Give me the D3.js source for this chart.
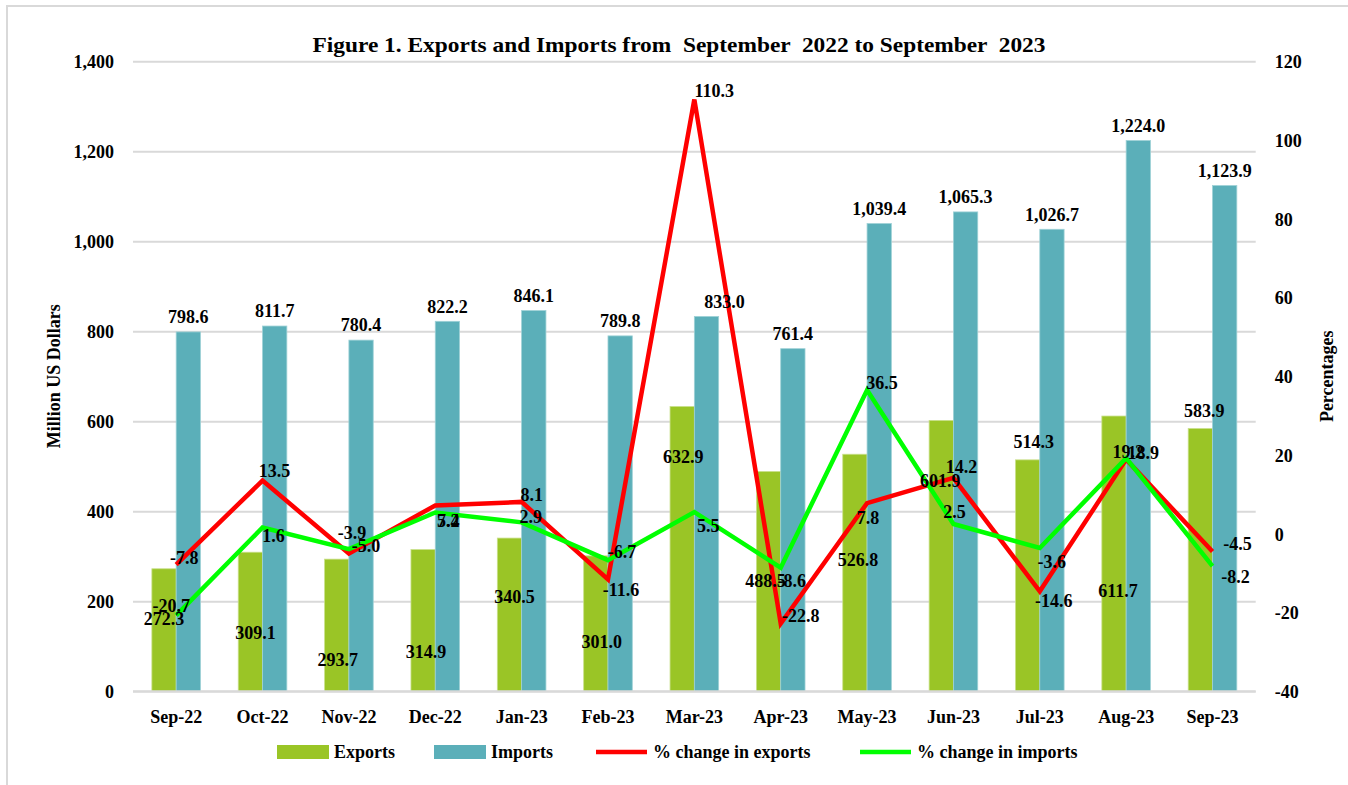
<!DOCTYPE html>
<html>
<head>
<meta charset="utf-8">
<script src="https://cdn.jsdelivr.net/npm/d3@7"></script>
<style>
  html, body { margin: 0; padding: 0; background: #fff; }
  svg { display: block; }
  text { font-family: "Liberation Serif", "Times New Roman", serif; font-weight: bold; fill: #000; }
</style>
</head>
<body>
<svg id="chart" width="1348" height="785"></svg>
<script>
// ---------------- data ----------------
const categories = ["Sep-22","Oct-22","Nov-22","Dec-22","Jan-23","Feb-23","Mar-23","Apr-23","May-23","Jun-23","Jul-23","Aug-23","Sep-23"];
const exportsVals = [272.3, 309.1, 293.7, 314.9, 340.5, 301.0, 632.9, 488.5, 526.8, 601.9, 514.3, 611.7, 583.9];
const importsVals = [798.6, 811.7, 780.4, 822.2, 846.1, 789.8, 833.0, 761.4, 1039.4, 1065.3, 1026.7, 1224.0, 1123.9];
const pctExports = [-7.8, 13.5, -5.0, 7.2, 8.1, -11.6, 110.3, -22.8, 7.8, 14.2, -14.6, 18.9, -4.5];
const pctImports = [-20.7, 1.6, -3.9, 5.4, 2.9, -6.7, 5.5, -8.6, 36.5, 2.5, -3.6, 19.2, -8.2];
const leftTicks = [0, 200, 400, 600, 800, 1000, 1200, 1400];
const rightTicks = [-40, -20, 0, 20, 40, 60, 80, 100, 120];
const seriesNames = ["Exports", "Imports", "% change in exports", "% change in imports"];
const titleText = "Figure 1. Exports and Imports from  September  2022 to September  2023";

// label nudges (pixels) as placed in the original chart
const exportLabelNudge = [[0,50],[5,80],[1,101],[3,102],[5,59],[6,86],[1,50],[-3,109],[3,105],[-1,60],[6,-18],[4,175],[4,-18]];
const importLabelNudge = [[0,-15],[0,-15],[0,-15],[0,-15],[0,-15],[0,-15],[18,-15],[0,-15],[0,-15],[0,-15],[0,-15],[0,-15],[0,-15]];
const pctExpLabelNudge = [[8,-7],[12,-10],[17,-8],[13,15],[10,-7],[13,10],[20,-9],[20,-8],[1,15],[8,-11],[14,9],[17,-7],[25,-8]];
const pctImpLabelNudge = [[-5,-10],[11,8],[3,-16],[13,8],[9,-6],[14,-8],[14,14],[11,13],[15,-7],[1,-12],[12,14],[2,-7],[23,11]];

// ---------------- styles ----------------
const C_EXP = "#9AC526", C_IMP = "#5BAFB9", C_RED = "#FF0000", C_GREEN = "#00FF00", C_GRID = "#D9D9D9";
const FS = 18;
const hyph = s => s.replace(/\u2212/g, "-");
const fmtComma1 = v => hyph(d3.format(",.1f")(v));
const fmt1 = v => hyph(d3.format(".1f")(v));
const fmtInt = v => hyph(d3.format("d")(v));

const svg = d3.select("#chart");
const plot = { left: 133, right: 1255.7, top: 61.3, bottom: 691.3 };

// border of chart area
svg.append("rect").attr("x", 7).attr("y", 6).attr("width", 1400).attr("height", 900)
  .attr("fill", "none").attr("stroke", C_GRID).attr("stroke-width", 2);

const x0 = d3.scaleBand().domain(categories).range([plot.left, plot.right])
  .paddingInner(0.437).paddingOuter(0.2185);
const x1 = d3.scaleBand().domain(["Exports", "Imports"]).range([0, x0.bandwidth()]);
const yL = d3.scaleLinear().domain([0, 1400]).range([plot.bottom, plot.top]);
const yR = d3.scaleLinear().domain([-40, 120]).range([plot.bottom, plot.top]);
const cx = c => x0(c) + x0.bandwidth() / 2;

// gridlines
svg.append("g").attr("transform", `translate(${plot.left},0)`)
  .call(d3.axisLeft(yL).tickValues(leftTicks).tickSize(-(plot.right - plot.left)).tickFormat(""))
  .call(g => g.select(".domain").remove())
  .call(g => g.selectAll("line").attr("stroke", C_GRID).attr("stroke-width", 2));

// left axis labels
svg.append("g").attr("transform", `translate(${plot.left},0)`)
  .call(d3.axisLeft(yL).tickValues(leftTicks).tickSize(0).tickPadding(19).tickFormat(d3.format(",")))
  .call(g => g.select(".domain").remove())
  .call(g => g.selectAll("text").attr("font-size", FS).attr("font-family", null).attr("dy", "0.35em"));

// right axis labels
svg.append("g").attr("transform", `translate(${plot.right},0)`)
  .call(d3.axisRight(yR).tickValues(rightTicks).tickSize(0).tickPadding(19).tickFormat(fmtInt))
  .call(g => g.select(".domain").remove())
  .call(g => g.selectAll("text").attr("font-size", FS).attr("font-family", null).attr("dy", "0.35em"));

// x axis labels
svg.append("g").attr("transform", `translate(0,${plot.bottom})`)
  .call(d3.axisBottom(x0).tickSize(0).tickPadding(19))
  .call(g => g.select(".domain").remove())
  .call(g => g.selectAll("text").attr("font-size", FS).attr("font-family", null).attr("dy", "0.71em"));

// bars
const barG = svg.append("g");
barG.selectAll("rect.exp").data(categories).join("rect").attr("class", "exp")
  .attr("x", (c) => x0(c) + x1("Exports")).attr("width", x1.bandwidth())
  .attr("y", (c, i) => yL(exportsVals[i])).attr("height", (c, i) => yL(0) - yL(exportsVals[i]))
  .attr("fill", C_EXP).attr("stroke", "#C9E08A").attr("stroke-width", 0.8);
barG.selectAll("rect.imp").data(categories).join("rect").attr("class", "imp")
  .attr("x", (c) => x0(c) + x1("Imports")).attr("width", x1.bandwidth())
  .attr("y", (c, i) => yL(importsVals[i])).attr("height", (c, i) => yL(0) - yL(importsVals[i]))
  .attr("fill", C_IMP).attr("stroke", "#9ED1D6").attr("stroke-width", 0.8);

// baseline
svg.append("line").attr("x1", plot.left).attr("x2", plot.right).attr("y1", yL(0)).attr("y2", yL(0))
  .attr("stroke", C_GRID).attr("stroke-width", 2);

// lines
const lineGen = vals => d3.line().x((c) => cx(c)).y((c, i) => yR(vals[i]))(categories);
svg.append("path").attr("d", lineGen(pctExports)).attr("fill", "none")
  .attr("stroke", C_RED).attr("stroke-width", 4.5).attr("stroke-linejoin", "miter");
svg.append("path").attr("d", lineGen(pctImports)).attr("fill", "none")
  .attr("stroke", C_GREEN).attr("stroke-width", 4.5).attr("stroke-linejoin", "miter");

// labels
const lbl = svg.append("g").attr("font-size", FS).attr("text-anchor", "middle");
categories.forEach((c, i) => {
  const ex = x0(c) + x1("Exports") + x1.bandwidth() / 2;
  const im = x0(c) + x1("Imports") + x1.bandwidth() / 2;
  lbl.append("text").attr("x", ex + exportLabelNudge[i][0]).attr("y", yL(exportsVals[i]) + exportLabelNudge[i][1])
    .attr("dy", "0.35em").text(fmtComma1(exportsVals[i]));
  lbl.append("text").attr("x", im + importLabelNudge[i][0]).attr("y", yL(importsVals[i]) + importLabelNudge[i][1])
    .attr("dy", "0.35em").text(fmtComma1(importsVals[i]));
  lbl.append("text").attr("x", cx(c) + pctExpLabelNudge[i][0]).attr("y", yR(pctExports[i]) + pctExpLabelNudge[i][1])
    .attr("dy", "0.35em").text(fmt1(pctExports[i]));
  lbl.append("text").attr("x", cx(c) + pctImpLabelNudge[i][0]).attr("y", yR(pctImports[i]) + pctImpLabelNudge[i][1])
    .attr("dy", "0.35em").text(fmt1(pctImports[i]));
});

// title
svg.append("text").attr("x", 679).attr("y", 45).attr("text-anchor", "middle").attr("font-size", 21)
  .style("white-space", "pre").attr("textLength", 733).attr("lengthAdjust", "spacingAndGlyphs")
  .attr("dy", "0.35em").text(titleText);

// axis titles
svg.append("text").attr("transform", `translate(54,${(plot.top + plot.bottom) / 2}) rotate(-90)`)
  .attr("text-anchor", "middle").attr("dy", "0.35em").attr("font-size", FS).text("Million US Dollars");
svg.append("text").attr("transform", `translate(1327,${(plot.top + plot.bottom) / 2}) rotate(-90)`)
  .attr("text-anchor", "middle").attr("dy", "0.35em").attr("font-size", FS).text("Percentages");

// legend
const legY = 752;
const legItems = [
  { name: seriesNames[0], type: "rect", color: C_EXP, x: 277 },
  { name: seriesNames[1], type: "rect", color: C_IMP, x: 434 },
  { name: seriesNames[2], type: "line", color: C_RED, x: 596 },
  { name: seriesNames[3], type: "line", color: C_GREEN, x: 860 }
];
const leg = svg.append("g");
legItems.forEach(it => {
  if (it.type === "rect") {
    leg.append("rect").attr("x", it.x).attr("y", legY - 7).attr("width", 52).attr("height", 14).attr("fill", it.color);
  } else {
    leg.append("line").attr("x1", it.x).attr("x2", it.x + 51).attr("y1", legY).attr("y2", legY)
      .attr("stroke", it.color).attr("stroke-width", 4.5);
  }
  leg.append("text").attr("x", it.x + 57).attr("y", legY).attr("dy", "0.35em").attr("font-size", FS).text(it.name);
});
</script>
</body>
</html>
